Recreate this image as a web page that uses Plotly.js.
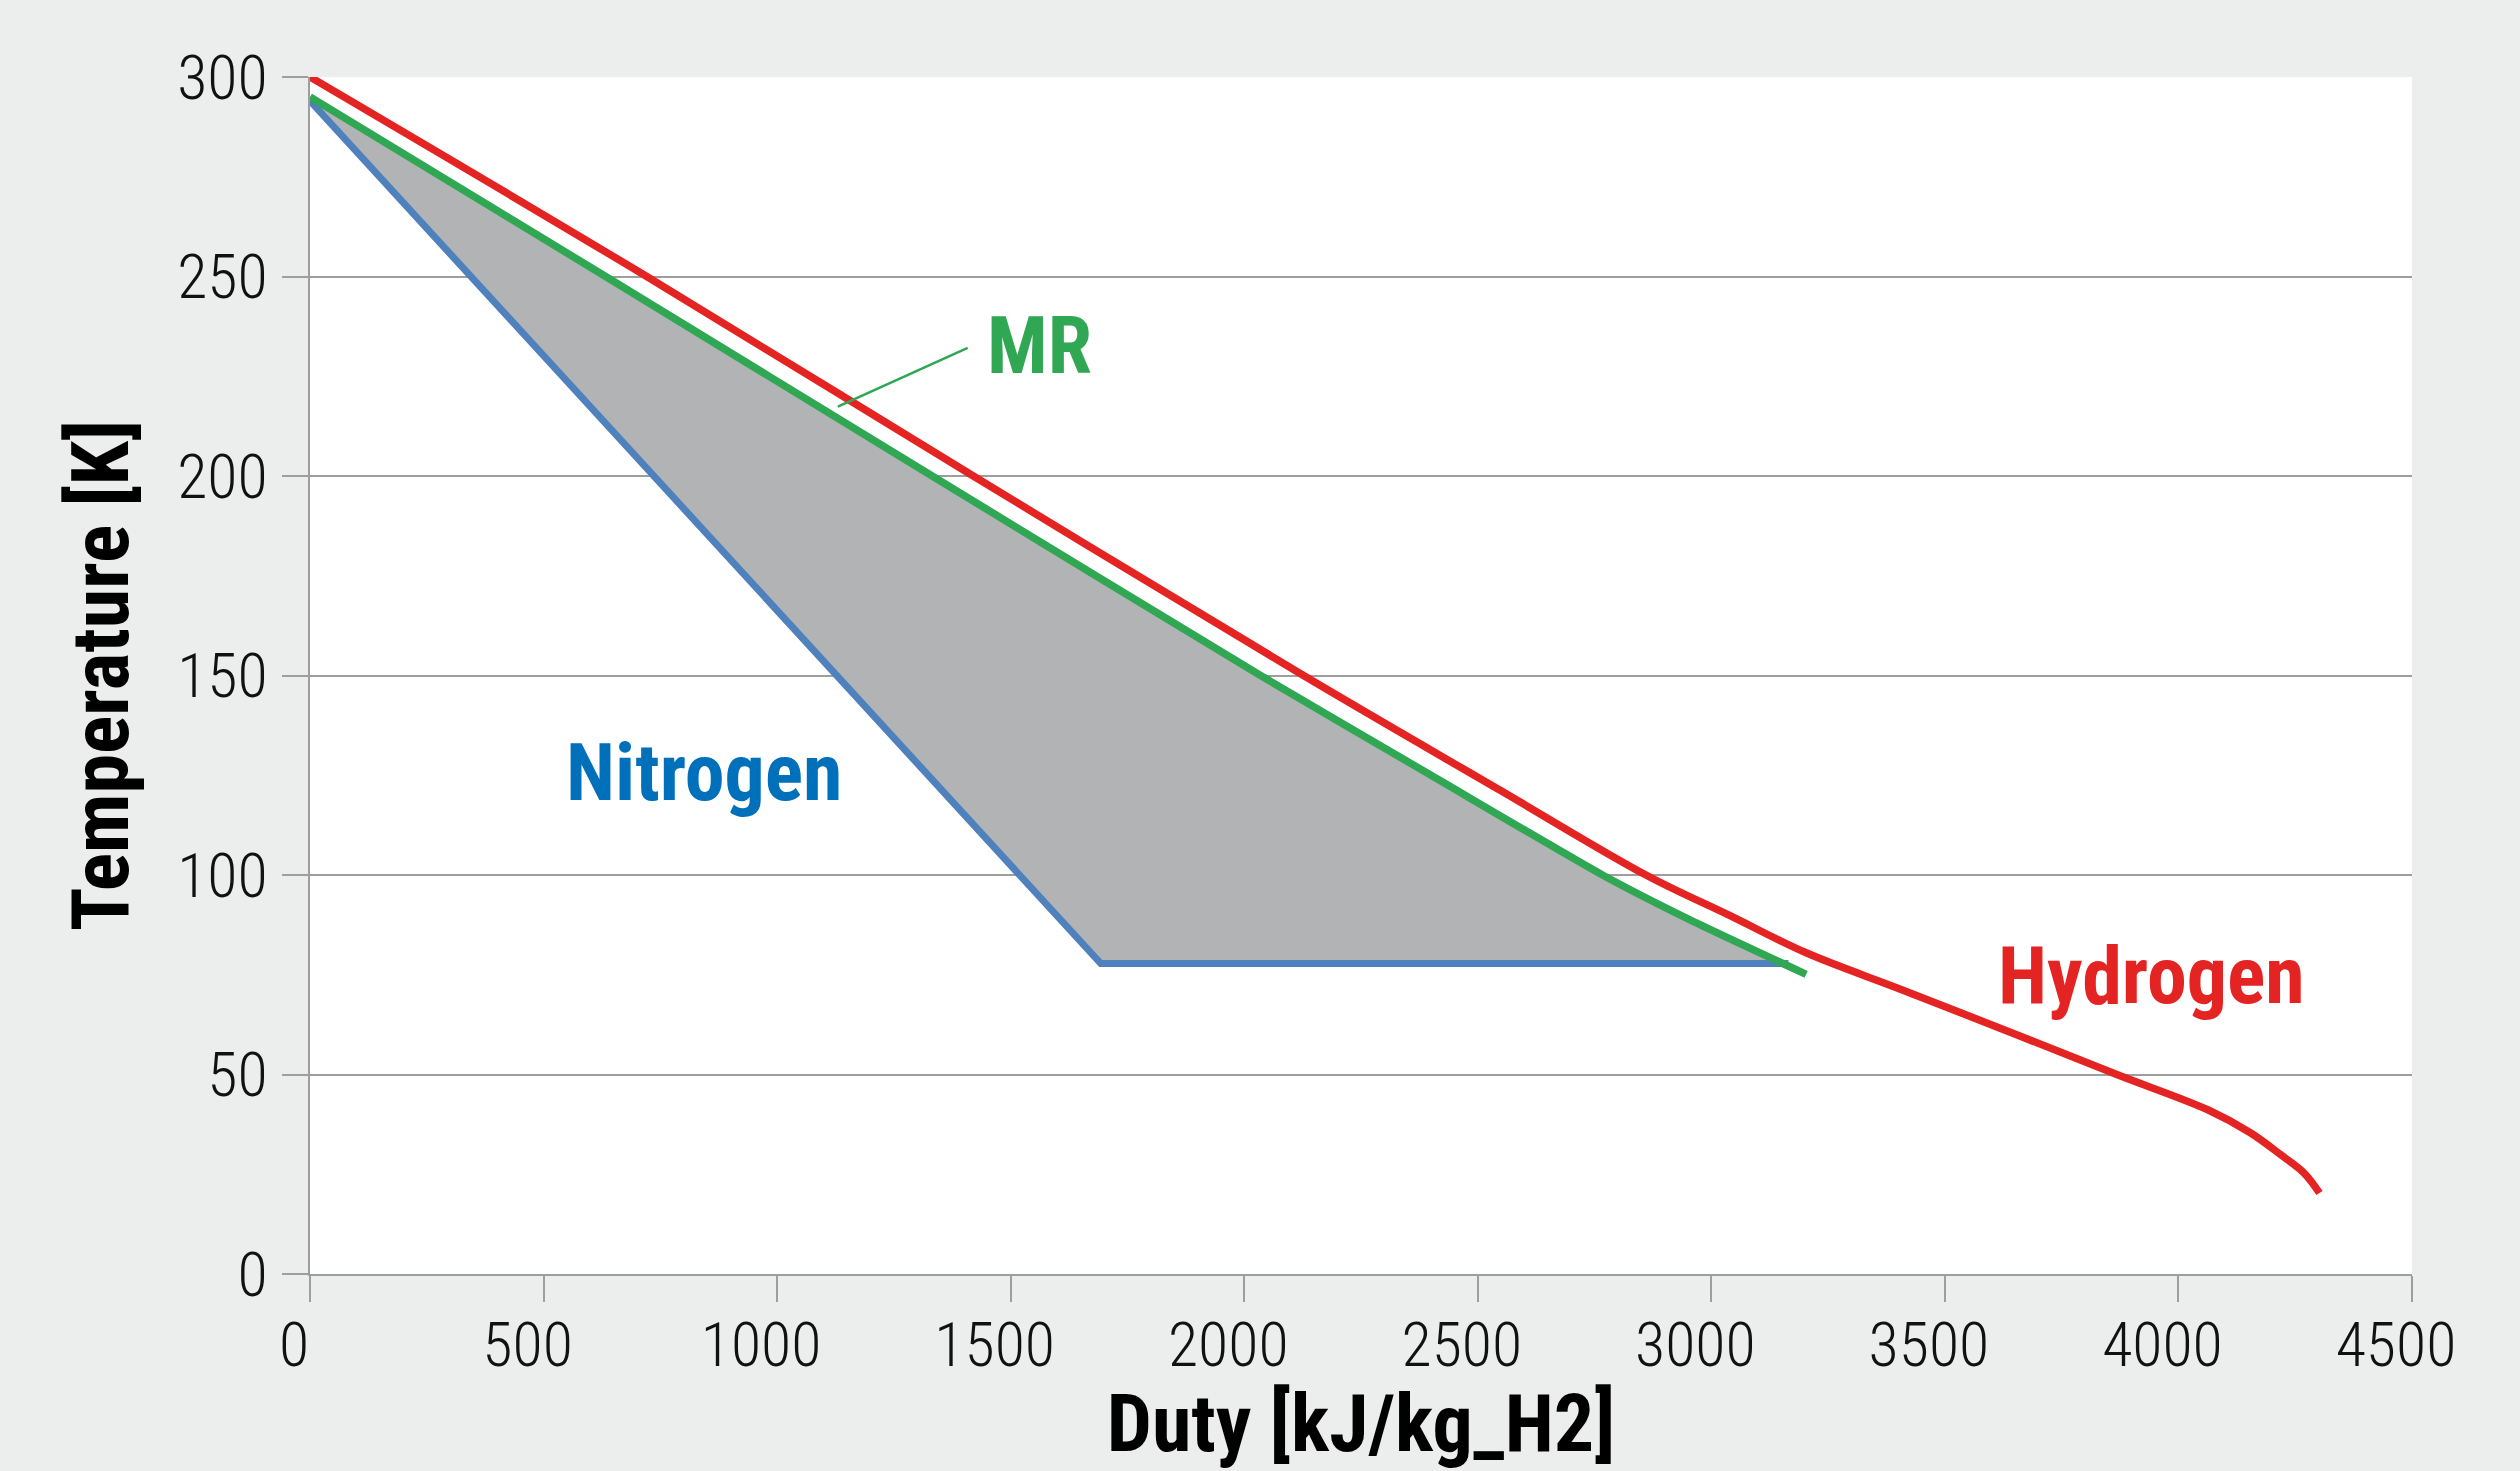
<!DOCTYPE html>
<html>
<head>
<meta charset="utf-8">
<script src="https://cdn.plot.ly/plotly-3.0.1.min.js"></script>
<style>
  html, body { margin: 0; padding: 0; background: #eceeed; }
  #chart { width: 2520px; height: 1471px; }
</style>
</head>
<body>
<div id="chart"></div>
<script>
// ---- Data ----
const hydrogenDuty = [0, 721, 1420, 2127, 2547, 2860, 3040, 3203, 3409, 3655, 3868, 4064, 4154, 4220, 4269, 4302];
const hydrogenTemp = [300, 250, 200, 150, 121.3, 100, 89.8, 80.5, 71.2, 59.9, 50, 41.1, 35.4, 29.8, 25.3, 20.3];

const mrDuty = [0, 633, 1332, 2035, 2400, 2767, 2950, 3203];
const mrTemp = [295, 250, 200, 150, 125, 100, 89, 75.1];

const nitrogenDuty = [0, 1693, 3165];
const nitrogenTemp = [294, 77.8, 77.8];

const xTicks = [0, 500, 1000, 1500, 2000, 2500, 3000, 3500, 4000, 4500];
const yTicks = [0, 50, 100, 150, 200, 250, 300];

const labelNames = ["MR", "Nitrogen", "Hydrogen"];
const labelDuty = [1562, 845, 3942];
const labelTemp = [232.5, 125.6, 74.7];
const mrLeaderDuty = [1130, 1408];
const mrLeaderTemp = [217.4, 232.1];

// ---- Styles ----
const RED = "rgb(228,36,34)";
const GREEN = "rgb(47,167,83)";
const BLUE = "rgb(79,129,189)";
const BLUE_TEXT = "rgb(0,112,186)";
const FILL = "rgb(178,179,181)";
const GRID = "rgb(158,158,158)";
const TICKFONT = "'Roboto Condensed', 'DejaVu Sans Condensed', sans-serif";
const BOLDFONT = "'Roboto Condensed', 'DejaVu Sans Condensed', sans-serif";

const fillX = mrDuty.concat(nitrogenDuty.slice().reverse());
const fillY = mrTemp.concat(nitrogenTemp.slice().reverse());

const traces = [
  { x: fillX, y: fillY, type: "scatter", mode: "lines", fill: "toself",
    fillcolor: FILL, line: { width: 0, color: FILL }, hoverinfo: "skip", showlegend: false },
  { x: nitrogenDuty, y: nitrogenTemp, type: "scatter", mode: "lines", name: "Nitrogen",
    line: { color: BLUE, width: 7 }, showlegend: false },
  { x: mrDuty, y: mrTemp, type: "scatter", mode: "lines", name: "MR",
    line: { color: GREEN, width: 7.5, shape: "spline", smoothing: 0.6 }, showlegend: false },
  { x: hydrogenDuty, y: hydrogenTemp, type: "scatter", mode: "lines", name: "Hydrogen",
    line: { color: RED, width: 7.5, shape: "spline", smoothing: 1.0 }, showlegend: false }
];

const labelColors = [GREEN, BLUE_TEXT, RED];
const annotations = labelNames.map((t, i) => ({
  x: labelDuty[i], y: labelTemp[i], xref: "x", yref: "y",
  text: t, showarrow: false,
  xanchor: "center", yanchor: "middle",
  font: { family: BOLDFONT, size: 80, weight: 700, color: labelColors[i] }
}));

const layout = {
  width: 2520, height: 1471,
  paper_bgcolor: "rgb(236,238,237)",
  plot_bgcolor: "#ffffff",
  margin: { l: 310, r: 108, t: 77, b: 197, pad: 0 },
  showlegend: false,
  xaxis: {
    range: [0, 4500], tickvals: xTicks, ticktext: xTicks.map(String),
    showgrid: false, zeroline: false,
    showline: true, linecolor: GRID, linewidth: 2,
    ticks: "outside", ticklen: 26, tickcolor: GRID, tickwidth: 2,
    ticklabelshift: -16, ticklabelstandoff: -10,
    tickfont: { family: TICKFONT, size: 62, weight: 300, color: "#111" },
    title: { text: "Duty [kJ/kg_H2]", standoff: 50,
             font: { family: BOLDFONT, size: 80, weight: 700, color: "#000" } },
    fixedrange: true
  },
  yaxis: {
    range: [0, 300], tickvals: yTicks, ticktext: yTicks.map(String),
    showgrid: true, gridcolor: GRID, gridwidth: 2, zeroline: false,
    showline: true, linecolor: GRID, linewidth: 2,
    ticks: "outside", ticklen: 26, tickcolor: GRID, tickwidth: 2,
    ticklabelstandoff: 2,
    tickfont: { family: TICKFONT, size: 62, weight: 300, color: "#111" },
    title: { text: "Temperature [K]", standoff: 22,
             font: { family: BOLDFONT, size: 80, weight: 700, color: "#000" } },
    fixedrange: true
  },
  annotations: annotations,
  shapes: [{
    type: "line", xref: "x", yref: "y",
    x0: mrLeaderDuty[0], y0: mrLeaderTemp[0], x1: mrLeaderDuty[1], y1: mrLeaderTemp[1],
    line: { color: GREEN, width: 2.5 }
  }]
};

Plotly.newPlot("chart", traces, layout, { displayModeBar: false, staticPlot: true });
</script>
</body>
</html>
